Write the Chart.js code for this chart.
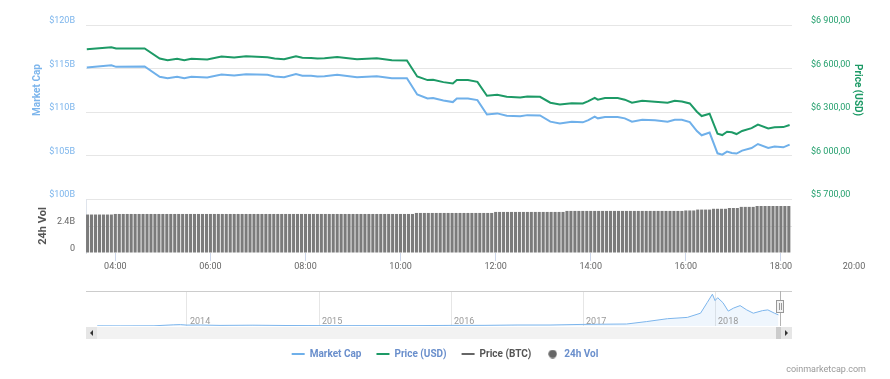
<!DOCTYPE html>
<html>
<head>
<meta charset="utf-8">
<script src="https://cdn.jsdelivr.net/npm/chart.js@4"></script>
<style>
    body { margin: 0; background: #fff; }
    #wrapper { position: relative; width: 890px; height: 379px; }
    #main { position: absolute; left: 0; top: 0; }
    #nav { position: absolute; left: 0; top: 280px; }
</style>
</head>
<body>
<div id="wrapper">
    <canvas id="main" width="890" height="280"></canvas>
    <canvas id="nav" width="890" height="99"></canvas>
</div>
<script>
    Chart.defaults.font.family = 'Roboto, sans-serif';
    Chart.defaults.animation = false;

    // time of day (HH:MM) for the two line series
    var lineTimes = ['03:24', '03:55', '04:01', '04:37', '04:56', '05:06', '05:18', '05:27', '05:36', '05:56',
        '06:14', '06:30', '06:45', '07:12', '07:21', '07:33', '07:48', '07:56', '08:07', '08:15',
        '08:24', '08:40', '09:05', '09:30', '09:49', '10:08', '10:21', '10:34', '10:41', '10:54',
        '11:06', '11:11', '11:25', '11:37', '11:49', '12:02', '12:14', '12:31', '12:40', '12:56',
        '13:09', '13:21', '13:36', '13:50', '13:57', '14:05', '14:09', '14:18', '14:34', '14:43',
        '14:52', '15:05', '15:21', '15:37', '15:46', '15:55', '16:05', '16:14', '16:20', '16:30',
        '16:40', '16:46', '16:52', '16:58', '17:04', '17:11', '17:23', '17:31', '17:44', '17:52',
        '18:03', '18:11'];

    // market cap in billions of USD
    var marketCap = [115.11, 115.38, 115.19, 115.23, 114.05, 113.89, 114.05, 113.89, 114.05, 113.97,
        114.31, 114.2, 114.35, 114.28, 114.08, 114.0, 114.35, 114.16, 114.16, 114.08,
        114.12, 114.28, 114.0, 114.12, 113.89, 113.89, 112.02, 111.56, 111.6, 111.33,
        111.14, 111.56, 111.56, 111.37, 109.72, 109.84, 109.58, 109.5, 109.64, 109.61,
        108.89, 108.69, 108.89, 108.81, 109.07, 109.46, 109.27, 109.42, 109.42, 109.27,
        108.89, 109.11, 109.04, 108.89, 109.11, 109.1, 108.84, 107.81, 107.32, 107.63,
        105.25, 105.1, 105.45, 105.29, 105.22, 105.56, 105.86, 106.32, 105.86, 106.02,
        105.94, 106.25];

    // price in USD
    var priceUsd = [6733, 6747, 6738, 6738, 6669, 6657, 6667, 6657, 6667, 6662,
        6683, 6676, 6685, 6678, 6669, 6664, 6685, 6674, 6672, 6669,
        6671, 6680, 6664, 6671, 6657, 6655, 6545, 6520, 6522, 6506,
        6497, 6520, 6520, 6508, 6412, 6419, 6405, 6400, 6407, 6405,
        6364, 6352, 6361, 6359, 6375, 6398, 6385, 6396, 6396, 6385,
        6364, 6378, 6371, 6364, 6378, 6373, 6359, 6302, 6272, 6288,
        6151, 6141, 6164, 6160, 6148, 6169, 6189, 6213, 6187, 6194,
        6196, 6210];

    // 24h volume in billions, one bar every 5 minutes starting at volStart
    var volStart = '03:25';
    var volStep = 5;
    var volume = [3.42, 3.42, 3.42, 3.42, 3.42, 3.42, 3.42,
        3.47, 3.47, 3.47, 3.47, 3.47, 3.47, 3.47, 3.47, 3.47, 3.47,
        3.47, 3.47, 3.47, 3.47, 3.47, 3.47, 3.47, 3.47, 3.47, 3.47,
        3.47, 3.47, 3.47, 3.47, 3.47, 3.47, 3.47, 3.47, 3.47, 3.47,
        3.47, 3.47, 3.47, 3.47, 3.47, 3.47, 3.47, 3.47, 3.47, 3.47,
        3.47, 3.47, 3.47, 3.47, 3.47, 3.47, 3.47, 3.47, 3.47, 3.47,
        3.47, 3.47, 3.47, 3.47, 3.47, 3.47, 3.47, 3.47, 3.47, 3.47,
        3.47, 3.47, 3.47, 3.47, 3.47, 3.47, 3.47, 3.47, 3.47, 3.47,
        3.47, 3.47, 3.47, 3.47, 3.47, 3.47,
        3.56, 3.56, 3.56, 3.56, 3.56, 3.56, 3.56, 3.56, 3.56, 3.56,
        3.56, 3.56, 3.56, 3.56, 3.56, 3.56, 3.56, 3.56, 3.56, 3.56,
        3.65, 3.65, 3.65, 3.65, 3.65, 3.65, 3.65, 3.65, 3.65, 3.65,
        3.65, 3.65, 3.65, 3.65, 3.65, 3.65, 3.65, 3.65,
        3.74, 3.74, 3.74, 3.74, 3.74, 3.74, 3.74, 3.74, 3.74, 3.74,
        3.74, 3.74, 3.74, 3.74, 3.74, 3.74, 3.74, 3.74, 3.74, 3.74,
        3.74, 3.74, 3.74, 3.74, 3.74, 3.74, 3.74, 3.74, 3.74, 3.74,
        3.78, 3.78, 3.78,
        3.86, 3.86, 3.86, 3.86,
        3.93, 3.93, 3.93, 3.93,
        4.0, 4.0, 4.0,
        4.1, 4.1, 4.1, 4.1,
        4.18, 4.18, 4.18, 4.18, 4.18, 4.18, 4.18, 4.18, 4.18];

    var xStart = '03:23';
    var xEnd = '18:14';
    var xTickLabels = ['04:00', '06:00', '08:00', '10:00', '12:00', '14:00', '16:00', '18:00'];
    var xOverflowLabel = '20:00';

    // navigator: whole history of market cap (billions)
    var navYears = [2013.32, 2013.5, 2013.75, 2013.9, 2013.95, 2014.0, 2014.1, 2014.25, 2014.5, 2014.75,
        2015.0, 2015.25, 2015.5, 2015.75, 2016.0, 2016.25, 2016.5, 2016.75, 2017.0, 2017.15,
        2017.33, 2017.48, 2017.64, 2017.79, 2017.89, 2017.94, 2017.98, 2018.0, 2018.02, 2018.06,
        2018.1, 2018.14, 2018.19, 2018.24, 2018.29, 2018.36, 2018.4, 2018.45, 2018.48];
    var navCaps = [1.5, 1.2, 2, 12, 14, 9, 10, 6, 8, 5,
        4, 3.5, 3.8, 4, 6, 6.5, 10, 10, 16, 18,
        20, 44, 73, 86, 128, 233, 318, 254, 283, 233,
        149, 179, 204, 161, 128, 154, 161, 128, 112];
    var navYearTicks = [2014, 2015, 2016, 2017, 2018];

    var legendNames = ['Market Cap', 'Price (USD)', 'Price (BTC)', '24h Vol'];

    var BLUE = '#6fb0ea';
    var BLUE_TEXT = '#7cb5ec';
    var GREEN = '#1d9a66';
    var GREEN_TEXT = '#25a06e';
    var BAR_GRAY = '#7b7b7b';
    var GRID = '#e6e6e6';

    function toMin(s) {
        var p = s.split(':');
        return +p[0] * 60 + +p[1];
    }
    function fmtTime(m) {
        var h = Math.floor(m / 60), mm = Math.round(m % 60);
        return (h < 10 ? '0' : '') + h + ':' + (mm < 10 ? '0' : '') + mm;
    }
    function fmtUsd(v) {
        return '$' + String(v).replace(/\B(?=(\d{3})+(?!\d))/g, ' ') + ',00';
    }

    var capPoints = lineTimes.map(function (t, i) { return { x: toMin(t), y: marketCap[i] }; });
    var pricePoints = lineTimes.map(function (t, i) { return { x: toMin(t), y: priceUsd[i] }; });
    var volPoints = volume.map(function (v, i) { return { x: toMin(volStart) + i * volStep, y: v }; });

    var tickFont = { size: 9 };

    var mainDecor = {
        id: 'mainDecor',
        afterDraw: function (chart) {
            var ctx = chart.ctx, a = chart.chartArea, s = chart.scales;
            ctx.save();
            ctx.textAlign = 'center';
            ctx.textBaseline = 'middle';

            ctx.font = 'bold 10px Roboto, sans-serif';
            ctx.fillStyle = BLUE_TEXT;
            ctx.save();
            ctx.translate(a.left - 49, a.top + 65);
            ctx.rotate(-Math.PI / 2);
            ctx.fillText('Market Cap', 0, 0);
            ctx.restore();

            ctx.fillStyle = GREEN;
            ctx.save();
            ctx.translate(a.right + 65, a.top + 65);
            ctx.rotate(Math.PI / 2);
            ctx.fillText('Price (USD)', 0, 0);
            ctx.restore();

            ctx.font = 'bold 11px Roboto, sans-serif';
            ctx.fillStyle = '#555';
            ctx.save();
            ctx.translate(a.left - 43, (s.yVol.top + s.yVol.bottom) / 2);
            ctx.rotate(-Math.PI / 2);
            ctx.fillText('24h Vol', 0, 0);
            ctx.restore();

            // last time label sits outside the plot
            ctx.font = '9px Roboto, sans-serif';
            ctx.fillStyle = '#666';
            ctx.fillText(xOverflowLabel, a.right + 62, s.x.top + 13.5);
            ctx.restore();
        }
    };

    new Chart('main', {
        data: {
            datasets: [
                {
                    type: 'line',
                    label: legendNames[0],
                    data: capPoints,
                    yAxisID: 'y',
                    borderColor: BLUE,
                    borderWidth: 2,
                    pointRadius: 0,
                },
                {
                    type: 'line',
                    label: legendNames[1],
                    data: pricePoints,
                    yAxisID: 'yPrice',
                    borderColor: GREEN,
                    borderWidth: 2,
                    pointRadius: 0,
                },
                {
                    type: 'bar',
                    label: legendNames[3],
                    data: volPoints,
                    yAxisID: 'yVol',
                    backgroundColor: BAR_GRAY,
                    barPercentage: 0.78,
                    categoryPercentage: 1,
                }
            ]
        },
        options: {
            responsive: false,
            events: [],
            layout: { padding: { top: 25, left: 0, right: 0, bottom: 0 } },
            plugins: {
                legend: { display: false },
                tooltip: { enabled: false },
            },
            scales: {
                x: {
                    type: 'linear',
                    position: 'bottom',
                    offset: false,
                    min: toMin(xStart),
                    max: toMin(xEnd),
                    afterBuildTicks: function (scale) {
                        scale.ticks = xTickLabels.map(function (t) { return { value: toMin(t) }; });
                    },
                    afterFit: function (scale) { scale.height = 27; },
                    ticks: {
                        callback: function (v) { return fmtTime(v); },
                        color: '#666',
                        font: tickFont,
                        padding: 0,
                        maxRotation: 0,
                        autoSkip: false,
                    },
                    grid: { drawOnChartArea: false, offset: false, tickLength: 8, color: '#ccd6eb' },
                    border: { display: false },
                },
                yVol: {
                    type: 'linear',
                    position: 'left',
                    stack: 'left',
                    stackWeight: 54,
                    min: 0,
                    max: 4.8,
                    afterBuildTicks: function (scale) {
                        scale.ticks = [{ value: 0 }, { value: 2.4 }];
                    },
                    afterFit: function (scale) { scale.width = 86; },
                    ticks: {
                        callback: function (v) { return v === 0 ? '0' : v + 'B'; },
                        color: '#666',
                        font: tickFont,
                        padding: 11,
                        labelOffset: -4,
                    },
                    grid: {
                        drawTicks: false,
                        color: function (c) { return c.tick && c.tick.value === 0 ? 'rgba(0,0,0,0)' : GRID; },
                    },
                    border: { display: true, color: '#dfe4ec' },
                },
                y: {
                    type: 'linear',
                    position: 'left',
                    stack: 'left',
                    stackWeight: 174,
                    min: 100,
                    max: 120,
                    afterFit: function (scale) { scale.width = 86; },
                    ticks: {
                        stepSize: 5,
                        callback: function (v) { return '$' + v + 'B'; },
                        color: BLUE_TEXT,
                        font: tickFont,
                        padding: 11,
                        labelOffset: -4,
                    },
                    grid: { drawTicks: false, color: GRID },
                    border: { display: false },
                },
                yPrice: {
                    type: 'linear',
                    position: 'right',
                    stack: 'right',
                    stackWeight: 174,
                    min: 5700,
                    max: 6900,
                    afterFit: function (scale) { scale.width = 98; },
                    ticks: {
                        stepSize: 300,
                        callback: function (v) { return fmtUsd(v); },
                        color: GREEN_TEXT,
                        font: tickFont,
                        padding: 11,
                        labelOffset: -4,
                    },
                    grid: { display: false },
                    border: { display: false },
                },
                yPad: {
                    type: 'linear',
                    position: 'right',
                    stack: 'right',
                    stackWeight: 54,
                    afterFit: function (scale) { scale.width = 98; },
                    ticks: { display: false },
                    grid: { display: false },
                    border: { display: false },
                }
            }
        },
        plugins: [mainDecor]
    });

    var navDecor = {
        id: 'navDecor',
        afterDraw: function (chart) {
            var ctx = chart.ctx, a = chart.chartArea, xs = chart.scales.x;
            ctx.save();
            // outline along the top
            ctx.strokeStyle = '#cccccc';
            ctx.lineWidth = 1;
            ctx.beginPath();
            ctx.moveTo(a.left, a.top + 0.5);
            ctx.lineTo(a.right, a.top + 0.5);
            ctx.stroke();

            // year labels sit inside the navigator, right of each grid line
            ctx.font = '9px Roboto, sans-serif';
            ctx.fillStyle = '#999';
            ctx.textAlign = 'left';
            ctx.textBaseline = 'middle';
            navYearTicks.forEach(function (y) {
                ctx.fillText(String(y), xs.getPixelForValue(y) + 3, a.bottom - 4);
            });

            // scrollbar
            var sy = a.bottom + 1, sh = 12;
            ctx.fillStyle = '#f2f2f2';
            ctx.fillRect(a.left, sy, a.right - a.left, sh);
            ctx.fillStyle = '#e6e6e6';
            ctx.fillRect(a.left, sy, 11, sh);
            ctx.fillRect(a.right - 11, sy, 11, sh);
            ctx.fillStyle = '#cccccc';
            ctx.fillRect(a.right - 16, sy, 5, sh);
            ctx.fillStyle = '#333';
            ctx.beginPath();
            ctx.moveTo(a.left + 4, sy + sh / 2);
            ctx.lineTo(a.left + 7, sy + sh / 2 - 3);
            ctx.lineTo(a.left + 7, sy + sh / 2 + 3);
            ctx.fill();
            ctx.beginPath();
            ctx.moveTo(a.right - 4, sy + sh / 2);
            ctx.lineTo(a.right - 7, sy + sh / 2 - 3);
            ctx.lineTo(a.right - 7, sy + sh / 2 + 3);
            ctx.fill();

            // range handle at the right end
            var hx = a.right - 12;
            ctx.strokeStyle = '#b3b3b3';
            ctx.beginPath();
            ctx.moveTo(hx + 0.5, a.top);
            ctx.lineTo(hx + 0.5, a.bottom);
            ctx.stroke();
            ctx.fillStyle = '#f2f2f2';
            ctx.strokeStyle = '#999';
            ctx.fillRect(hx - 3.5, a.top + 9.5, 7, 12);
            ctx.strokeRect(hx - 3.5, a.top + 9.5, 7, 12);
            ctx.beginPath();
            ctx.moveTo(hx - 0.5, a.top + 12);
            ctx.lineTo(hx - 0.5, a.top + 19);
            ctx.moveTo(hx + 1.5, a.top + 12);
            ctx.lineTo(hx + 1.5, a.top + 19);
            ctx.stroke();

            // credits
            ctx.font = '9px Roboto, sans-serif';
            ctx.fillStyle = '#999';
            ctx.textAlign = 'right';
            ctx.textBaseline = 'middle';
            ctx.fillText('coinmarketcap.com', a.right + 74, chart.height - 9);
            ctx.restore();
        }
    };

    var legendColors = [BLUE, GREEN, '#666666', '#666666'];

    // round marker for the volume legend entry
    var dot = document.createElement('canvas');
    dot.width = 9;
    dot.height = 9;
    var dctx = dot.getContext('2d');
    dctx.fillStyle = '#666666';
    dctx.beginPath();
    dctx.arc(4.5, 4.5, 4.2, 0, Math.PI * 2);
    dctx.fill();
    var legendStyles = ['line', 'line', 'line', dot];

    new Chart('nav', {
        type: 'line',
        data: {
            datasets: [{
                data: navYears.map(function (y, i) { return { x: y, y: navCaps[i] }; }),
                borderColor: BLUE_TEXT,
                backgroundColor: 'rgba(124,181,236,0.12)',
                borderWidth: 1,
                pointRadius: 0,
                fill: 'origin',
            }]
        },
        options: {
            responsive: false,
            events: [],
            layout: { padding: { top: 11, left: 0, right: 0, bottom: 10 } },
            plugins: {
                tooltip: { enabled: false },
                legend: {
                    display: true,
                    position: 'bottom',
                    labels: {
                        usePointStyle: true,
                        pointStyleWidth: 13,
                        boxHeight: 6,
                        padding: 15,
                        font: { size: 10, weight: 'bold' },
                        generateLabels: function () {
                            return legendNames.map(function (name, i) {
                                return {
                                    text: name,
                                    fillStyle: legendColors[i],
                                    strokeStyle: legendColors[i],
                                    lineWidth: 2,
                                    pointStyle: legendStyles[i],
                                    fontColor: i === 2 ? '#555555' : '#6a8fcc',
                                    hidden: false,
                                    datasetIndex: i,
                                };
                            });
                        }
                    }
                }
            },
            scales: {
                x: {
                    type: 'linear',
                    min: 2013.235,
                    max: 2018.583,
                    afterBuildTicks: function (scale) {
                        scale.ticks = navYearTicks.map(function (y) { return { value: y }; });
                    },
                    afterFit: function (scale) { scale.height = 8; },
                    ticks: { display: false },
                    grid: { drawTicks: false, color: GRID },
                    border: { display: false },
                },
                y: {
                    position: 'left',
                    min: 0,
                    max: 350,
                    afterFit: function (scale) { scale.width = 86; },
                    ticks: { display: false },
                    grid: { display: false },
                    border: { display: false },
                },
                yRight: {
                    position: 'right',
                    afterFit: function (scale) { scale.width = 98; },
                    ticks: { display: false },
                    grid: { display: false },
                    border: { display: false },
                }
            }
        },
        plugins: [navDecor]
    });
</script>
</body>
</html>
